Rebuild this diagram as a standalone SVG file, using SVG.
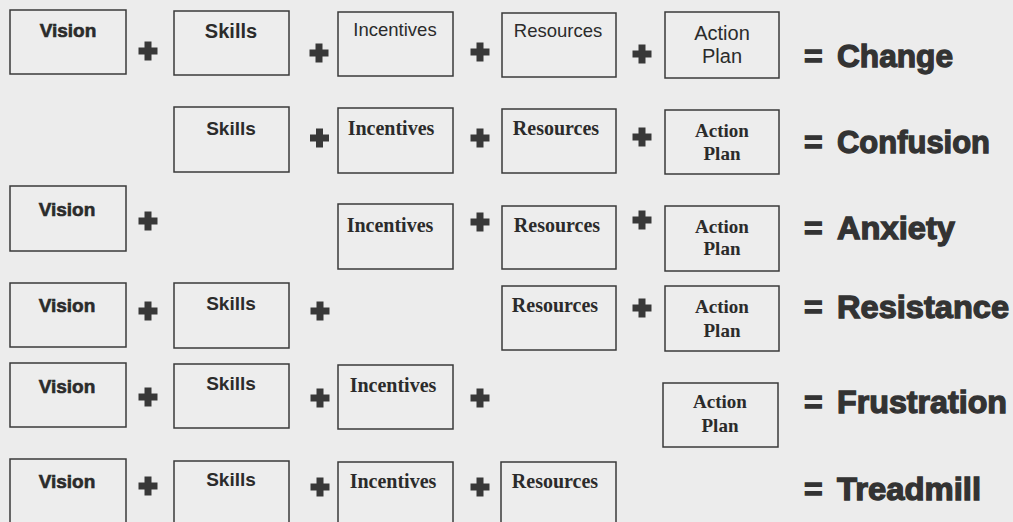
<svg xmlns="http://www.w3.org/2000/svg" width="1013" height="522" viewBox="0 0 1013 522">
<style>
.box{fill:#ededed;stroke:#3a3a3a;stroke-width:1.5}
.sb{font-family:"Liberation Sans",Arial,sans-serif;font-weight:bold;fill:#2b2b2b;text-anchor:middle}
.sbh{font-family:"Liberation Sans",Arial,sans-serif;font-weight:bold;fill:#2b2b2b;stroke:#2b2b2b;stroke-width:0.6;text-anchor:middle}
.sr{font-family:"Liberation Sans",Arial,sans-serif;fill:#2b2b2b;text-anchor:middle}
.tb{font-family:"Liberation Serif","Times New Roman",serif;font-weight:bold;fill:#2b2b2b;text-anchor:middle}
.res{font-family:"Liberation Sans",Arial,sans-serif;font-weight:bold;font-size:32px;fill:#333;stroke:#333;stroke-width:1.3}
.op{fill:#383838}
</style>
<defs>
<path id="plus" d="M-3.5,-9.5h7v6h6v7h-6v6h-7v-6h-6v-7h6z"/>
</defs>
<rect x="0" y="0" width="1013" height="522" fill="#ececec"/>

<!-- Row 1 -->
<g id="r1-vision"><rect class="box" x="10" y="10" width="116" height="64"/><text class="sbh" x="68" y="37" font-size="19">Vision</text></g>
<g id="r1-skills"><rect class="box" x="174" y="11" width="115" height="64"/><text class="sb" x="231" y="38" font-size="20">Skills</text></g>
<g id="r1-incentives"><rect class="box" x="338" y="12" width="115" height="64"/><text class="sr" x="395" y="36" font-size="18.5">Incentives</text></g>
<g id="r1-resources"><rect class="box" x="502" y="13" width="114" height="64"/><text class="sr" x="558" y="37" font-size="18.5">Resources</text></g>
<g id="r1-action"><rect class="box" x="665" y="12" width="114" height="66"/><text class="sr" x="722" y="40" font-size="20">Action</text><text class="sr" x="722" y="63" font-size="20">Plan</text></g>

<!-- Row 2 -->
<g id="r2-skills"><rect class="box" x="174" y="107" width="115" height="65"/><text class="sb" x="231" y="135" font-size="19">Skills</text></g>
<g id="r2-incentives"><rect class="box" x="338" y="108" width="115" height="65"/><text class="tb" x="391" y="135" font-size="20">Incentives</text></g>
<g id="r2-resources"><rect class="box" x="502" y="109" width="114" height="64"/><text class="tb" x="556" y="135" font-size="20">Resources</text></g>
<g id="r2-action"><rect class="box" x="665" y="110" width="114" height="64"/><text class="tb" x="722" y="137" font-size="19">Action</text><text class="tb" x="722" y="160" font-size="19">Plan</text></g>

<!-- Row 3 -->
<g id="r3-vision"><rect class="box" x="10" y="186" width="116" height="65"/><text class="sbh" x="67" y="216" font-size="19">Vision</text></g>
<g id="r3-incentives"><rect class="box" x="338" y="204" width="115" height="65"/><text class="tb" x="390" y="232" font-size="20">Incentives</text></g>
<g id="r3-resources"><rect class="box" x="502" y="206" width="114" height="63"/><text class="tb" x="557" y="232" font-size="20">Resources</text></g>
<g id="r3-action"><rect class="box" x="665" y="206" width="114" height="65"/><text class="tb" x="722" y="233" font-size="19">Action</text><text class="tb" x="722" y="255" font-size="19">Plan</text></g>

<!-- Row 4 -->
<g id="r4-vision"><rect class="box" x="10" y="283" width="116" height="64"/><text class="sbh" x="67" y="312" font-size="19">Vision</text></g>
<g id="r4-skills"><rect class="box" x="174" y="283" width="115" height="65"/><text class="sb" x="231" y="310" font-size="19">Skills</text></g>
<g id="r4-resources"><rect class="box" x="502" y="286" width="114" height="64"/><text class="tb" x="555" y="312" font-size="20">Resources</text></g>
<g id="r4-action"><rect class="box" x="665" y="286" width="114" height="65"/><text class="tb" x="722" y="313" font-size="19">Action</text><text class="tb" x="722" y="337" font-size="19">Plan</text></g>

<!-- Row 5 -->
<g id="r5-vision"><rect class="box" x="10" y="363" width="116" height="64"/><text class="sbh" x="67" y="393" font-size="19">Vision</text></g>
<g id="r5-skills"><rect class="box" x="174" y="364" width="115" height="64"/><text class="sb" x="231" y="390" font-size="19">Skills</text></g>
<g id="r5-incentives"><rect class="box" x="338" y="365" width="115" height="64"/><text class="tb" x="393" y="392" font-size="20">Incentives</text></g>
<g id="r5-action"><rect class="box" x="663" y="383" width="115" height="64"/><text class="tb" x="720" y="408" font-size="19">Action</text><text class="tb" x="720" y="432" font-size="19">Plan</text></g>

<!-- Row 6 -->
<g id="r6-vision"><rect class="box" x="10" y="459" width="116" height="66"/><text class="sbh" x="67" y="488" font-size="19">Vision</text></g>
<g id="r6-skills"><rect class="box" x="174" y="461" width="115" height="66"/><text class="sb" x="231" y="486" font-size="19">Skills</text></g>
<g id="r6-incentives"><rect class="box" x="338" y="462" width="115" height="66"/><text class="tb" x="393" y="488" font-size="20">Incentives</text></g>
<g id="r6-resources"><rect class="box" x="501" y="462" width="115" height="66"/><text class="tb" x="555" y="488" font-size="20">Resources</text></g>

<!-- operators -->
<g id="connectors" class="op">
<use href="#plus" x="148" y="51"/><use href="#plus" x="319" y="53"/><use href="#plus" x="480" y="52"/><use href="#plus" x="642" y="54"/>
<use href="#plus" x="319.5" y="138"/><use href="#plus" x="480" y="138"/><use href="#plus" x="642" y="137"/>
<use href="#plus" x="148" y="221"/><use href="#plus" x="480" y="222"/><use href="#plus" x="642" y="220"/>
<use href="#plus" x="148" y="311"/><use href="#plus" x="320" y="311"/><use href="#plus" x="642" y="308"/>
<use href="#plus" x="148" y="397"/><use href="#plus" x="320" y="398"/><use href="#plus" x="480" y="398"/>
<use href="#plus" x="148" y="486"/><use href="#plus" x="320" y="487"/><use href="#plus" x="480" y="487"/>
</g>

<!-- results -->
<g id="result-change"><text class="res" x="804" y="67">=</text><text class="res" x="837" y="67" textLength="116" lengthAdjust="spacingAndGlyphs">Change</text></g>
<g id="result-confusion"><text class="res" x="804" y="153">=</text><text class="res" x="837" y="153" textLength="153" lengthAdjust="spacingAndGlyphs">Confusion</text></g>
<g id="result-anxiety"><text class="res" x="804" y="239">=</text><text class="res" x="837" y="239" textLength="118" lengthAdjust="spacingAndGlyphs">Anxiety</text></g>
<g id="result-resistance"><text class="res" x="804" y="318">=</text><text class="res" x="837" y="318" textLength="172" lengthAdjust="spacingAndGlyphs">Resistance</text></g>
<g id="result-frustration"><text class="res" x="804" y="413">=</text><text class="res" x="837" y="413" textLength="170" lengthAdjust="spacingAndGlyphs">Frustration</text></g>
<g id="result-treadmill"><text class="res" x="804" y="500">=</text><text class="res" x="837" y="500" textLength="144" lengthAdjust="spacingAndGlyphs">Treadmill</text></g>
</svg>
